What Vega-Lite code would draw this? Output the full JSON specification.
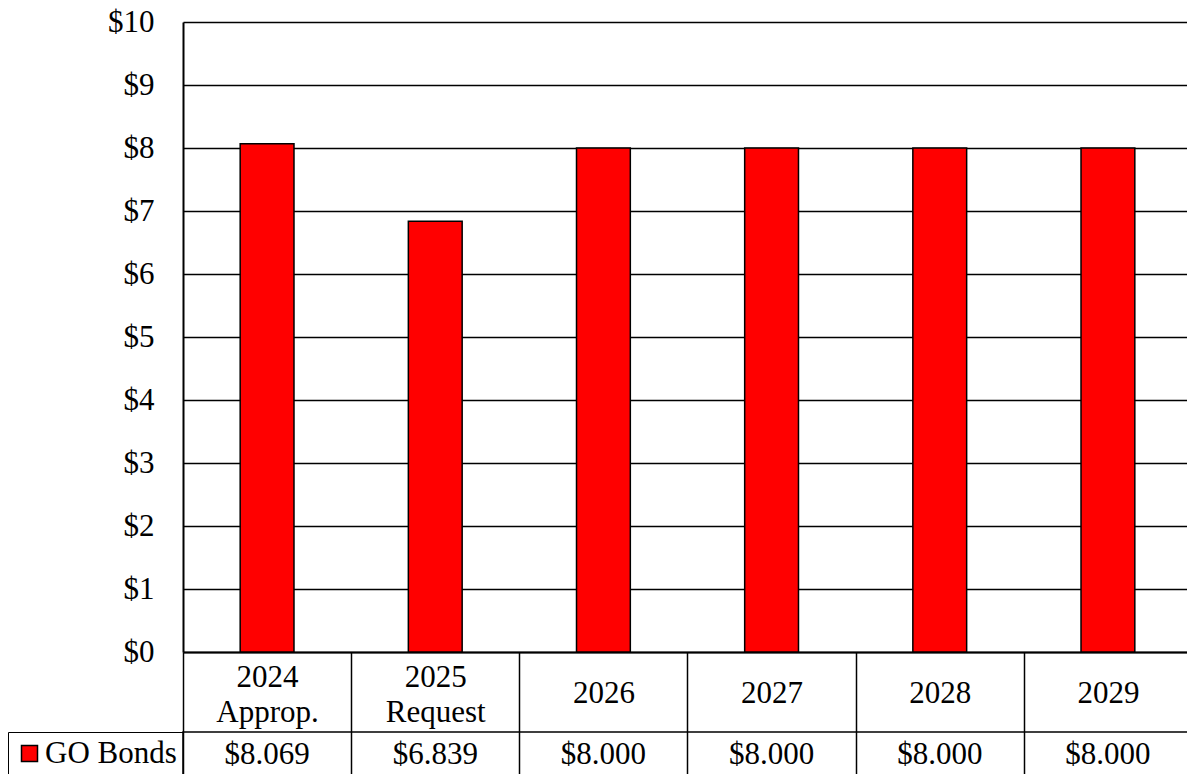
{
  "$schema": "https://vega.github.io/schema/vega-lite/v6.json",
  "autosize": {"type": "pad"},
  "padding": {"left": 6, "top": 6, "right": 0, "bottom": 0},
  "background": "white",
  "bounds": "flush",
  "spacing": 80,
  "resolve": {"scale": {"color": "independent"}, "legend": {"color": "independent"}},
  "data": {
    "values": [
      {"cat": "2024 Approp.", "value": 8.069, "series": "GO Bonds"},
      {"cat": "2025 Request", "value": 6.839, "series": "GO Bonds"},
      {"cat": "2026", "value": 8.0, "series": "GO Bonds"},
      {"cat": "2027", "value": 8.0, "series": "GO Bonds"},
      {"cat": "2028", "value": 8.0, "series": "GO Bonds"},
      {"cat": "2029", "value": 8.0, "series": "GO Bonds"}
    ]
  },
  "config": {"font": "Liberation Serif", "view": {"stroke": null}},
  "vconcat": [
    {
      "width": 1009,
      "height": 630,
      "mark": {"type": "bar", "fill": "#FF0000", "stroke": "black", "strokeWidth": 1.5},
      "encoding": {
        "x": {
          "field": "cat", "type": "nominal", "sort": null,
          "scale": {"paddingInner": 0.68, "paddingOuter": 0.34},
          "axis": {
            "title": null, "labelExpr": "split(datum.label, ' ')", "labelAngle": 0,
            "labelFontSize": 31, "labelColor": "black", "labelLineHeight": 35,
            "labelBaseline": "middle",
            "labelPadding": {"condition": {"test": "indexof(datum.value, ' ') >= 0", "value": -100}, "value": -84},
            "tickSize": 125, "tickColor": "black", "tickWidth": 1.5, "bandPosition": 0,
            "tickOffset": -57.18, "labelOffset": 57.18,
            "domainColor": "black", "domainWidth": 2, "labelFont": "Liberation Serif"
          }
        },
        "y": {
          "field": "value", "type": "quantitative",
          "scale": {"domain": [0, 10], "nice": false},
          "axis": {
            "title": null, "values": [0, 1, 2, 3, 4, 5, 6, 7, 8, 9, 10], "format": "$.0f",
            "labelFontSize": 31, "labelColor": "black", "labelPadding": 29, "ticks": false,
            "grid": true, "gridColor": "black", "gridWidth": 1.5, "gridOpacity": 1,
            "domainColor": "black", "domainWidth": 2, "labelFont": "Liberation Serif"
          }
        }
      }
    },
    {
      "width": 1009,
      "height": 46,
      "view": {"stroke": "black", "strokeWidth": 1.5},
      "encoding": {
        "x": {
          "field": "cat", "type": "nominal", "sort": null,
          "scale": {"paddingInner": 0.68, "paddingOuter": 0.34},
          "axis": null
        }
      },
      "layer": [
        {
          "mark": {"type": "text", "fontSize": 31, "font": "Liberation Serif", "color": "black"},
          "encoding": {
            "text": {"field": "value", "type": "quantitative", "format": "$.3f"}
          }
        },
        {
          "mark": {"type": "point", "shape": "square", "filled": true, "size": 0},
          "encoding": {
            "color": {
              "field": "series", "type": "nominal",
              "scale": {"range": ["#FF0000"]},
              "legend": {
                "orient": "left", "offset": 0, "title": null, "symbolType": "square",
                "symbolSize": 256, "labelFontSize": 31, "labelColor": "black",
                "labelOffset": 0, "padding": 6, "strokeColor": "black", "labelLimit": 0,
                "labelFont": "Liberation Serif", "symbolStrokeColor": "black",
                "symbolStrokeWidth": 1.5, "symbolOpacity": 1, "symbolFillColor": "#FF0000"
              }
            }
          }
        }
      ]
    }
  ]
}
